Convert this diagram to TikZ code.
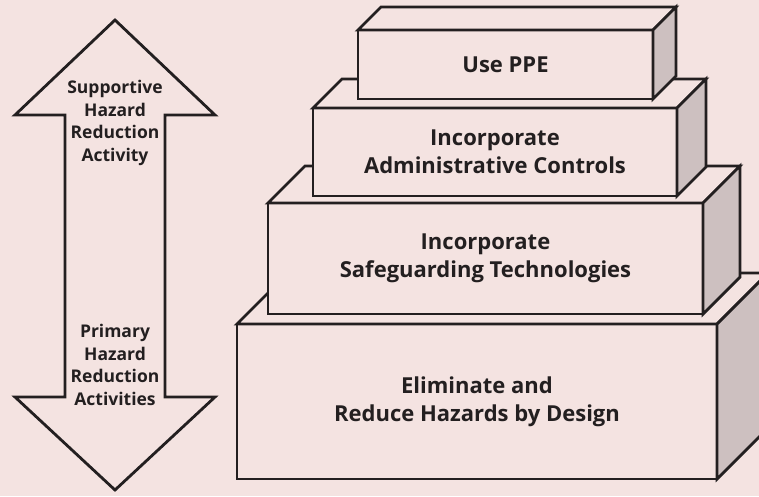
\documentclass[tikz,border=0pt]{standalone}
\usepackage{fontspec}
\setmainfont{Open Sans}
\definecolor{bgpink}{RGB}{244,227,225}
\definecolor{sidegray}{RGB}{205,192,192}
\definecolor{inkgray}{RGB}{35,31,32}

\begin{document}
\begin{tikzpicture}[x=1pt,y=-1pt,line width=2.8pt,color=inkgray,
  front/.style={draw,fill=bgpink,outer sep=0pt,inner sep=0pt,align=center,
    font=\bfseries\fontsize{22}{28}\selectfont},
  topface/.style={draw,fill=bgpink},
  sideface/.style={draw,fill=sidegray},
  arrowlabel/.style={align=center,font=\bfseries\fontsize{17.5}{22.5}\selectfont}]
 \fill[bgpink] (0,0) rectangle (759,496);
 \useasboundingbox (0,0) rectangle (759,496);
 % double arrow
 \draw[fill=bgpink] (115,20) -- (215,115) -- (165,115) -- (165,397) -- (215,397)
   -- (115,490) -- (15,397) -- (65,397) -- (65,115) -- (15,115) -- cycle;
 \node[arrowlabel] (sup) at (115,123) {Supportive\\Hazard\\Reduction\\Activity};
 \node[arrowlabel] (prim) at (115,365) {Primary\\Hazard\\Reduction\\Activities};
 % blocks, bottom one first
 \foreach \name/\cx/\cy/\w/\h/\d/\txt in {
   elim/477/401.5/480/155/51/{Eliminate and\\Reduce Hazards by Design},
   safe/485.5/258.5/435/111/37/{Incorporate\\Safeguarding Technologies},
   admin/495/152/364/88/29/{Incorporate\\Administrative Controls},
   ppe/505.5/64.5/295/69/23/{Use PPE}}
 {
  \node[front,minimum width=\w pt,minimum height=\h pt] (\name) at (\cx,\cy) {\txt};
  \draw[topface] (\name.north west) -- ++(\d,-\d) -- ++(\w,0) -- (\name.north east) -- cycle;
  \draw[sideface] (\name.north east) -- ++(\d,-\d) -- ++(0,\h) -- (\name.south east) -- cycle;
 }
\end{tikzpicture}
\end{document}
